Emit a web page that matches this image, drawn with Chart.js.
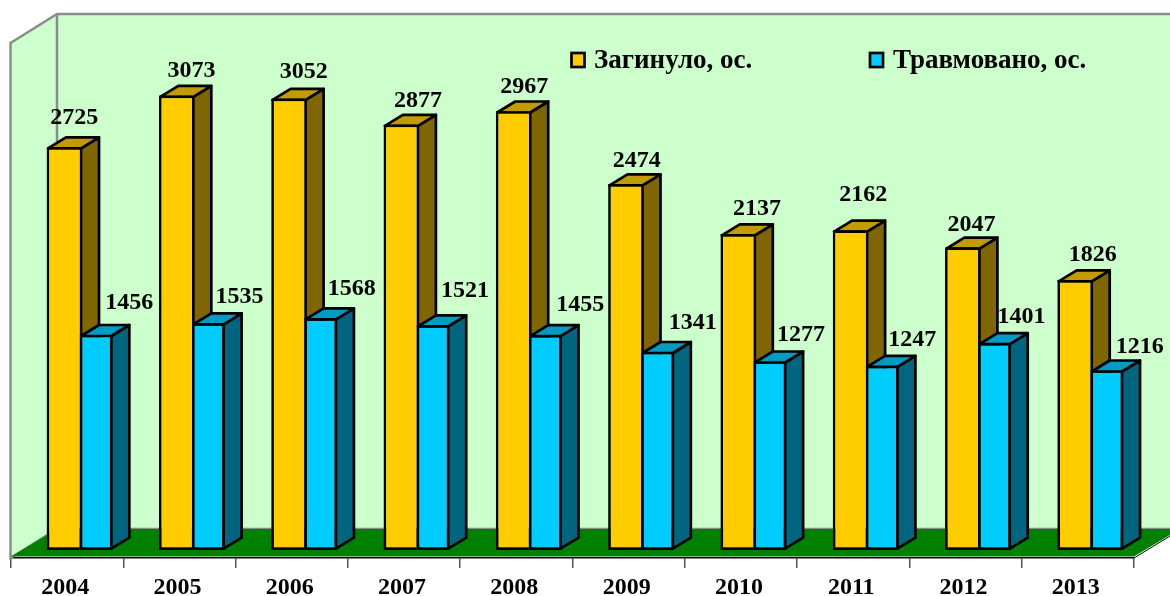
<!DOCTYPE html>
<html>
<head>
<meta charset="utf-8">
<style>html,body{margin:0;padding:0;background:#fff}canvas{display:block}</style>
<script src="https://cdn.jsdelivr.net/npm/chart.js@4/dist/chart.umd.min.js"></script>
</head>
<body>
<canvas id="c" width="1170" height="596"></canvas>
<script>
const years = ["2004","2005","2006","2007","2008","2009","2010","2011","2012","2013"];
const killed = [2725,3073,3052,2877,2967,2474,2137,2162,2047,1826];
const injured = [1456,1535,1568,1521,1455,1341,1277,1247,1401,1216];
const seriesNames = ["Загинуло, ос.","Травмовано, ос."];

const FONT = 'bold 24px "Liberation Serif"';
const LEGEND_FONT = 'bold 27px "Liberation Serif"';
const WALL_DX = 46, WALL_DY = 29;
const BAR_DX = 18, BAR_DY = 11;
const LW = 2.7;
const SHIFT = {x: 12.5, y: -8};

function drawDepth(chart, index) {
  const {ctx} = chart;
  const ds = chart.data.datasets[index];
  const meta = chart.getDatasetMeta(index);
  ctx.save();
  ctx.strokeStyle = '#000';
  ctx.lineWidth = LW;
  ctx.lineJoin = 'round';
  meta.data.forEach(el => {
    const p = el.getProps(['x','y','base','width'], true);
    const l = p.x - p.width/2 + LW/2;
    const r = p.x + p.width/2 + (index === 0 ? LW/2 : -LW/2);
    const t = p.y + LW/2;
    const b = p.base - LW/2;
    ctx.fillStyle = ds.sideColor;
    ctx.beginPath();
    ctx.moveTo(r, t);
    ctx.lineTo(r + BAR_DX, t - BAR_DY);
    ctx.lineTo(r + BAR_DX, b - BAR_DY);
    ctx.lineTo(r, b);
    ctx.closePath();
    ctx.fill(); ctx.stroke();
    ctx.fillStyle = ds.topColor;
    ctx.beginPath();
    ctx.moveTo(l, t);
    ctx.lineTo(l + BAR_DX, t - BAR_DY);
    ctx.lineTo(r + BAR_DX, t - BAR_DY);
    ctx.lineTo(r, t);
    ctx.closePath();
    ctx.fill(); ctx.stroke();
  });
  ctx.restore();
}

const scene = {
  id: 'scene',
  beforeDatasetsDraw(chart) {
    const {ctx, chartArea: a} = chart;
    ctx.save();
    ctx.lineJoin = 'miter';
    ctx.fillStyle = '#CCFFCC';
    ctx.strokeStyle = '#8C8C8C';
    ctx.lineWidth = 2.5;
    ctx.beginPath();
    ctx.moveTo(a.left - 0.5, a.top);
    ctx.lineTo(a.left + WALL_DX, a.top - WALL_DY);
    ctx.lineTo(1175, a.top - WALL_DY);
    ctx.lineTo(1175, a.bottom - WALL_DY);
    ctx.lineTo(a.left + WALL_DX, a.bottom - WALL_DY);
    ctx.lineTo(a.left - 0.5, a.bottom);
    ctx.closePath();
    ctx.fill();
    ctx.stroke();
    ctx.beginPath();
    ctx.moveTo(a.left + WALL_DX, a.top - WALL_DY);
    ctx.lineTo(a.left + WALL_DX, a.bottom - WALL_DY);
    ctx.stroke();
    ctx.fillStyle = '#008000';
    ctx.beginPath();
    ctx.moveTo(a.left, a.bottom - 1.5);
    ctx.lineTo(a.right, a.bottom - 1.5);
    ctx.lineTo(a.right + WALL_DX, a.bottom - WALL_DY);
    ctx.lineTo(a.left + WALL_DX, a.bottom - WALL_DY);
    ctx.closePath();
    ctx.fill();
    ctx.strokeStyle = '#000';
    ctx.lineWidth = 1;
    ctx.beginPath();
    ctx.moveTo(a.right, a.bottom);
    ctx.lineTo(a.right + WALL_DX, a.bottom - WALL_DY + 1);
    ctx.stroke();
    ctx.restore();
    ctx.save();
    ctx.translate(SHIFT.x, SHIFT.y);
    drawDepth(chart, 0);
  },
  afterDatasetDraw(chart, args) {
    if (args.index === 1) drawDepth(chart, 1);
  },
  afterDatasetsDraw(chart, args, opts) {
    const {ctx} = chart;
    ctx.restore();
    ctx.save();
    ctx.font = FONT;
    ctx.fillStyle = '#000';
    ctx.textAlign = 'center';
    ctx.textBaseline = 'middle';
    chart.data.datasets.forEach((ds, i) => {
      chart.getDatasetMeta(i).data.forEach((el, j) => {
        const p = el.getProps(['x','y'], true);
        const n = opts.nudge[i][j];
        ctx.fillText(String(ds.data[j]), p.x + SHIFT.x + n[0], p.y + SHIFT.y + n[1] + 1.5);
      });
    });
    ctx.textAlign = 'left';
    ctx.font = LEGEND_FONT;
    opts.legend.forEach((g, i) => {
      const ds = chart.data.datasets[i];
      ctx.fillStyle = ds.backgroundColor;
      ctx.strokeStyle = '#000';
      ctx.lineWidth = LW;
      ctx.fillRect(g.x, 53, 13, 14);
      ctx.strokeRect(g.x, 53, 13, 14);
      ctx.fillStyle = '#000';
      ctx.fillText(ds.label, g.tx, 61);
    });
    ctx.restore();
  }
};

new Chart(document.getElementById('c'), {
  type: 'bar',
  data: {
    labels: years,
    datasets: [
      {label: seriesNames[0], data: killed, backgroundColor: '#FFCC00', sideColor: '#806600', topColor: '#C29B00',
       borderColor: '#000', borderWidth: LW, borderSkipped: 'right', clip: false},
      {label: seriesNames[1], data: injured, backgroundColor: '#00CCFF', sideColor: '#006680', topColor: '#009BC2',
       borderColor: '#000', borderWidth: LW, borderSkipped: false, clip: false}
    ]
  },
  plugins: [scene],
  options: {
    responsive: false,
    animation: false,
    events: [],
    devicePixelRatio: 1,
    layout: {padding: {left: 11, right: 36, top: 43, bottom: 0}},
    datasets: {bar: {categoryPercentage: 0.588, barPercentage: 1}},
    scales: {
      x: {
        afterFit(s) { s.height = 38; },
        grid: {display: true, drawOnChartArea: false, drawTicks: true, tickLength: 10, color: '#555', lineWidth: 1.5, offset: true},
        border: {display: true, color: '#000', width: 1.5},
        ticks: {color: '#000', font: {family: '"Liberation Serif"', weight: 'bold', size: 24}, padding: 5, labelOffset: -2, maxRotation: 0, autoSkip: false}
      },
      y: {display: false, min: 0, max: 3482}
    },
    plugins: {
      legend: {display: false},
      tooltip: {enabled: false},
      title: {display: false},
      scene: {
        legend: [{x: 571.5, tx: 594}, {x: 870, tx: 893}],
        nudge: [
          [[11,-31],[16,-26],[16,-28],[18,-25],[12,-26],[12,-25],[20,-27],[14,-37],[10,-24],[19,-27]],
          [[33,-33],[31,-28],[31,-31],[32,-36],[35,-32],[35,-30],[31,-28],[30,-27],[27,-27],[33,-25]]
        ]
      }
    }
  }
});
</script>
</body>
</html>
